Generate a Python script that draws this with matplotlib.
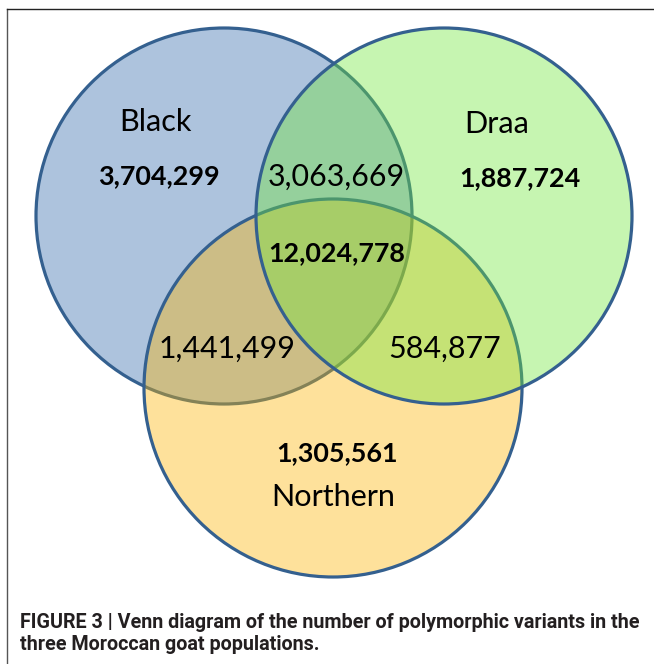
import matplotlib
matplotlib.use("Agg")
import matplotlib.pyplot as plt
from matplotlib.patches import Circle
from matplotlib.lines import Line2D

# ---------------- data ----------------
set_names = ["Black", "Draa", "Northern"]
set_colors = ["#adc3dd", "#c6f5b1", "#fee29b"]   # apparent single-region colours
region_labels = ["Black only", "Draa only", "Northern only",
                 "Black & Draa", "Black & Northern", "Draa & Northern", "All three"]
region_values = [3704299, 1887724, 1305561, 3063669, 1441499, 584877, 12024778]
region_bold = [True, True, True, False, False, False, True]
caption_lines = ["FIGURE 3 | Venn diagram of the number of polymorphic variants in the",
                 "three Moroccan goat populations."]

# ---------------- layout ----------------
W, H = 654, 664
fig = plt.figure(figsize=(W / 100, H / 100), dpi=100)
ax = fig.add_axes([0, 0, 1, 1])
ax.set_xlim(0, W)
ax.set_ylim(H, 0)
ax.axis("off")

circle_geom = {"Black": (224, 216, 188), "Draa": (444, 216, 188), "Northern": (333, 388, 189)}
draw_order = ["Black", "Northern", "Draa"]
alpha = 0.4
edge = "#34608f"

def base_rgb(hexcol):
    r, g, b = matplotlib.colors.to_rgb(hexcol)
    return tuple(min(1, max(0, (c - (1 - alpha)) / alpha)) for c in (r, g, b))

for name in draw_order:
    x, y, r = circle_geom[name]
    col = base_rgb(set_colors[set_names.index(name)])
    ax.add_patch(Circle((x, y), r, facecolor=(*col, alpha), edgecolor=edge, lw=2.3, zorder=2))

# frame lines
ax.add_line(Line2D([6.5, 6.5], [9, H], color="#555555", lw=1.0, zorder=5))
ax.add_line(Line2D([6.5, W], [9, 9], color="#222222", lw=1.0, zorder=5))

fig.canvas.draw()
renderer = fig.canvas.get_renderer()

def fit_size(text, family, weight, target_w, base=20):
    t = ax.text(0, 0, text, fontsize=base, family=family, weight=weight)
    w = t.get_window_extent(renderer).width
    t.remove()
    return base * target_w / w

fam = ["Lato", "DejaVu Sans"]
size_norm = fit_size("3,063,669", fam, "normal", 137)
size_bold = fit_size("3,704,299", fam, "bold", 122)
size_name = fit_size("Northern", fam, "normal", 125)

name_pos = {"Black": (155, 122), "Draa": (497, 124), "Northern": (333, 497)}
for name in set_names:
    x, y = name_pos[name]
    ax.text(x, y, name, fontsize=size_name, family=fam, ha="center", va="center", zorder=6)

region_pos = [(159, 176), (520, 178), (337, 453), (336, 177), (227, 349), (445, 349), (337, 253)]
for (x, y), v, b in zip(region_pos, region_values, region_bold):
    ax.text(x, y, f"{v:,}", fontsize=size_bold if b else size_norm, family=fam,
            weight="bold" if b else "normal", ha="center", va="center", zorder=6)

cap_fam = ["Roboto", "DejaVu Sans"]
cap_size = fit_size(caption_lines[0], cap_fam, "bold", 620)
ax.text(20, 622, caption_lines[0], fontsize=cap_size, family=cap_fam, weight="bold",
        ha="left", va="center", color="#231f20", zorder=6)
ax.text(20, 645, caption_lines[1], fontsize=cap_size, family=cap_fam, weight="bold",
        ha="left", va="center", color="#231f20", zorder=6)

fig.savefig("out.png", dpi=100)
